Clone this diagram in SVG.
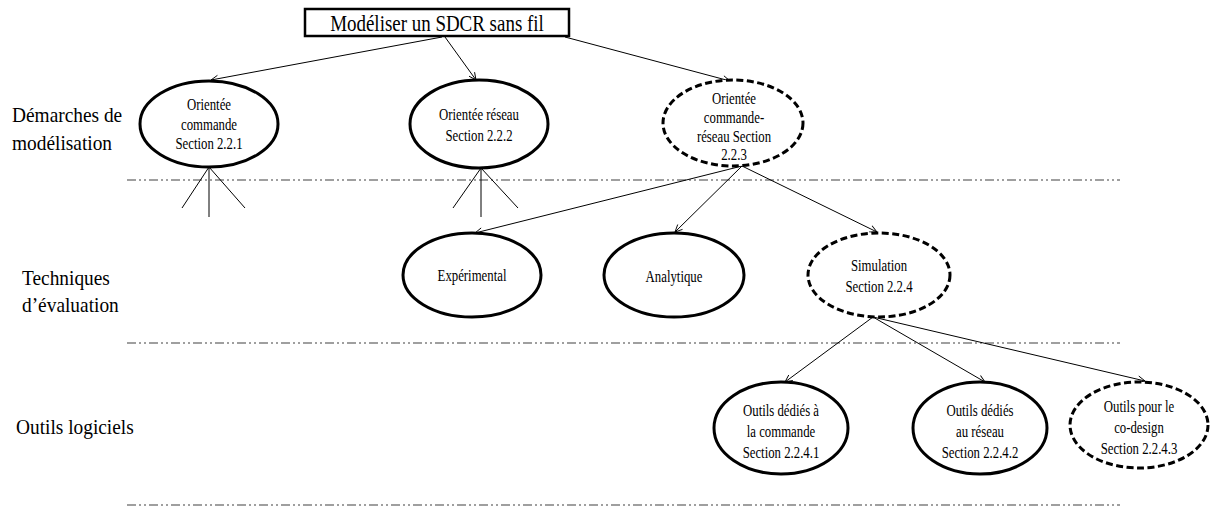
<svg xmlns="http://www.w3.org/2000/svg" width="1210" height="507" viewBox="0 0 1210 507">
  <style>
    .lbl { font-family: "Liberation Serif", "Times New Roman", serif; font-size: 22px; fill: #000; }
    .ttl { font-family: "Liberation Serif", "Times New Roman", serif; font-size: 24px; fill: #000; text-anchor: middle; }
    .nt { font-family: "Liberation Serif", "Times New Roman", serif; font-size: 16px; fill: #000; text-anchor: middle; }
    .node { fill: #fff; stroke: #000; stroke-width: 3; }
    .dash { stroke-dasharray: 7 3.5; }
    .sep { stroke: #808080; stroke-width: 1.5; stroke-dasharray: 9 3 2 3 2 3; fill: none; }
    .edge { stroke: #000; stroke-width: 1; fill: none; }
  </style>
  <defs>
    <marker id="open" viewBox="0 0 10 10" refX="9" refY="5" markerWidth="9" markerHeight="9" markerUnits="userSpaceOnUse" orient="auto">
      <path d="M1,1.2 L9,5 L1,8.8" fill="none" stroke="#000" stroke-width="1"/>
    </marker>
  </defs>

  <rect width="1210" height="507" fill="#fff"/>

  <!-- level separators -->
  <g id="separators">
    <line class="sep" x1="127" y1="180" x2="1120" y2="180"/>
    <line class="sep" x1="127" y1="343" x2="1120" y2="343"/>
    <line class="sep" x1="127" y1="505" x2="1120" y2="505"/>
  </g>

  <!-- level labels -->
  <g id="levels">
    <text class="lbl" transform="matrix(0.88 0 0 1 12 0)" y="122">Démarches de</text>
    <text class="lbl" transform="matrix(0.88 0 0 1 12 0)" y="150">modélisation</text>
    <text class="lbl" transform="matrix(0.88 0 0 1 22 0)" y="285">Techniques</text>
    <text class="lbl" transform="matrix(0.88 0 0 1 22 0)" y="312">d’évaluation</text>
    <text class="lbl" transform="matrix(0.88 0 0 1 16 0)" y="434">Outils logiciels</text>
  </g>

  <!-- connectors -->
  <g id="connectors">
    <line class="edge" x1="442" y1="37" x2="211" y2="80" marker-end="url(#open)"/>
    <line class="edge" x1="445" y1="37" x2="476" y2="80" marker-end="url(#open)"/>
    <line class="edge" x1="565" y1="37" x2="730" y2="81" marker-end="url(#open)"/>
    <!-- open branches below the first two approaches -->
    <line class="edge" x1="209" y1="167" x2="182" y2="208"/>
    <line class="edge" x1="209" y1="167" x2="209" y2="217"/>
    <line class="edge" x1="209" y1="167" x2="245" y2="208"/>
    <line class="edge" x1="481" y1="168" x2="453" y2="208"/>
    <line class="edge" x1="481" y1="168" x2="481" y2="217"/>
    <line class="edge" x1="481" y1="168" x2="518" y2="208"/>
    <!-- evaluation techniques -->
    <line class="edge" x1="742" y1="166" x2="475" y2="233" marker-end="url(#open)"/>
    <line class="edge" x1="742" y1="166" x2="675" y2="232" marker-end="url(#open)"/>
    <line class="edge" x1="742" y1="166" x2="877" y2="232" marker-end="url(#open)"/>
    <!-- software tools -->
    <line class="edge" x1="873" y1="317" x2="785" y2="382" marker-end="url(#open)"/>
    <line class="edge" x1="873" y1="317" x2="985" y2="382" marker-end="url(#open)"/>
    <line class="edge" x1="873" y1="317" x2="1145" y2="381" marker-end="url(#open)"/>
  </g>

  <g id="root">
    <rect x="305" y="9" width="264" height="27" fill="#fff" stroke="#000" stroke-width="2.5"/>
    <text class="ttl" transform="matrix(0.79 0 0 1 437 0)" y="31">Modéliser un SDCR sans fil</text>
  </g>

  <g id="orientee-commande">
    <ellipse class="node" cx="209" cy="124" rx="69" ry="43"/>
    <text class="nt" transform="matrix(0.8 0 0 1 209 0)"><tspan x="0" y="110">Orientée</tspan><tspan x="0" y="130">commande</tspan><tspan x="0" y="149">Section 2.2.1</tspan></text>
  </g>

  <g id="orientee-reseau">
    <ellipse class="node" cx="479" cy="124" rx="69" ry="44"/>
    <text class="nt" transform="matrix(0.8 0 0 1 479 0)"><tspan x="0" y="120">Orientée réseau</tspan><tspan x="0" y="141">Section 2.2.2</tspan></text>
  </g>

  <g id="orientee-commande-reseau">
    <ellipse class="node dash" cx="733" cy="123" rx="70" ry="43"/>
    <text class="nt" transform="matrix(0.8 0 0 1 734 0)"><tspan x="0" y="104">Orientée</tspan><tspan x="0" y="123">commande-</tspan><tspan x="0" y="142">réseau Section</tspan><tspan x="0" y="160">2.2.3</tspan></text>
  </g>

  <g id="experimental">
    <ellipse class="node" cx="472" cy="275" rx="69" ry="42"/>
    <text class="nt" transform="matrix(0.8 0 0 1 472 0)" y="281">Expérimental</text>
  </g>

  <g id="analytique">
    <ellipse class="node" cx="674" cy="275" rx="70" ry="42"/>
    <text class="nt" transform="matrix(0.8 0 0 1 674 0)" y="282">Analytique</text>
  </g>

  <g id="simulation">
    <ellipse class="node dash" cx="879" cy="275" rx="71" ry="42"/>
    <text class="nt" transform="matrix(0.8 0 0 1 879 0)"><tspan x="0" y="271">Simulation</tspan><tspan x="0" y="292">Section 2.2.4</tspan></text>
  </g>

  <g id="outils-commande">
    <ellipse class="node" cx="781" cy="428" rx="67" ry="46"/>
    <text class="nt" transform="matrix(0.8 0 0 1 781 0)"><tspan x="0" y="416">Outils dédiés à</tspan><tspan x="0" y="437">la commande</tspan><tspan x="0" y="458">Section 2.2.4.1</tspan></text>
  </g>

  <g id="outils-reseau">
    <ellipse class="node" cx="980" cy="428" rx="67" ry="46"/>
    <text class="nt" transform="matrix(0.8 0 0 1 980 0)"><tspan x="0" y="416">Outils dédiés</tspan><tspan x="0" y="437">au réseau</tspan><tspan x="0" y="458">Section 2.2.4.2</tspan></text>
  </g>

  <g id="outils-codesign">
    <ellipse class="node dash" cx="1139" cy="425" rx="69" ry="43"/>
    <text class="nt" transform="matrix(0.8 0 0 1 1139 0)"><tspan x="0" y="412">Outils pour le</tspan><tspan x="0" y="433">co-design</tspan><tspan x="0" y="454">Section 2.2.4.3</tspan></text>
  </g>
</svg>
